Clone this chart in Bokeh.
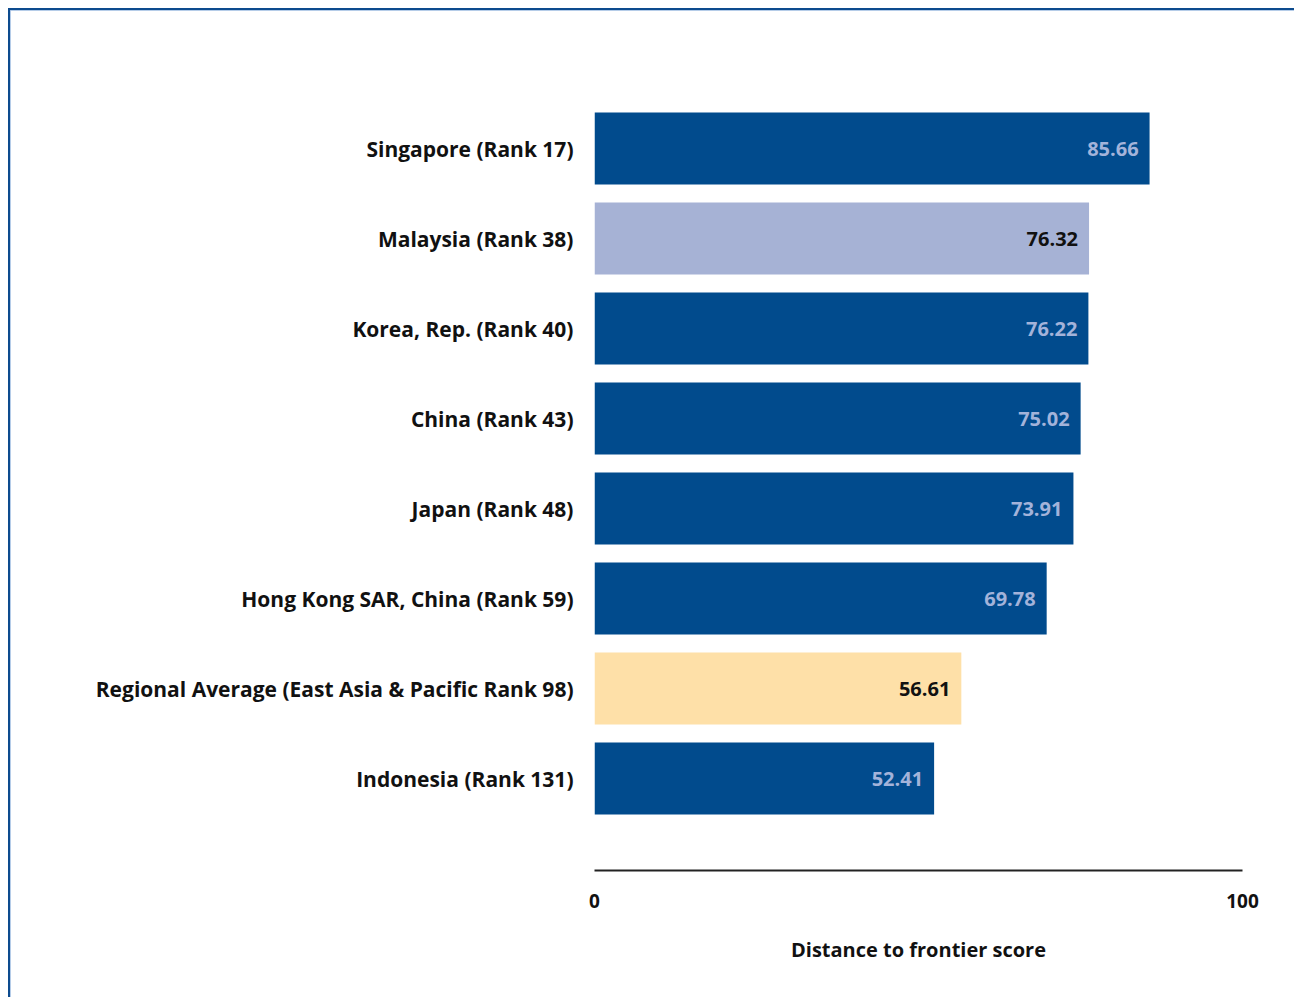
from bokeh.plotting import figure
from bokeh.models import Range1d, FixedTicker, ColumnDataSource
from bokeh.core.properties import value
from bokeh.embed import file_html
from bokeh.resources import INLINE

# ---- data ----
economies = [
    "Singapore (Rank 17)",
    "Malaysia (Rank 38)",
    "Korea, Rep. (Rank 40)",
    "China (Rank 43)",
    "Japan (Rank 48)",
    "Hong Kong SAR, China (Rank 59)",
    "Regional Average (East Asia & Pacific Rank 98)",
    "Indonesia (Rank 131)",
]
scores = [85.66, 76.32, 76.22, 75.02, 73.91, 69.78, 56.61, 52.41]
kinds = ["peer", "focus", "peer", "peer", "peer", "peer", "region", "peer"]
x_ticks = [0, 100]
x_title = "Distance to frontier score"

# ---- styles ----
fill_map = {"peer": "#014b8d", "focus": "#a6b2d5", "region": "#fee0a8"}
text_map = {"peer": "#a3b3da", "focus": "#111111", "region": "#111111"}
FONT = "Open Sans"

pos = list(range(len(economies)))
src = ColumnDataSource(dict(
    y=pos,
    score=scores,
    label=["%.2f" % s for s in scores],
    fill=[fill_map[k] for k in kinds],
    tcol=[text_map[k] for k in kinds],
))

p = figure(
    width=1286, height=989,
    x_range=Range1d(0, 100),
    y_range=Range1d(8.0222, -0.5),
    output_backend="svg", toolbar_location=None,
    min_border_left=584, min_border_right=54,
    min_border_top=93, min_border_bottom=129,
)
p.margin = (8, 0, 0, 8)
p.outline_line_color = None
p.xgrid.visible = False
p.ygrid.visible = False
p.background_fill_color = "white"
p.border_fill_color = "white"

p.hbar(y="y", left=0, right="score", height=0.8, fill_color="fill",
       line_color=None, source=src)

p.text(x="score", y="y", text="label", x_offset=-11,
       text_align="right", text_baseline="middle",
       text_color="tcol", text_font=value(FONT), text_font_style="bold",
       text_font_size="20px", source=src)

# x axis
xa = p.xaxis[0]
xa.ticker = FixedTicker(ticks=x_ticks)
xa.major_tick_line_color = None
xa.minor_tick_line_color = None
xa.axis_line_color = "#222222"
xa.axis_line_width = 2
xa.major_label_standoff = 17
xa.major_label_text_font = FONT
xa.major_label_text_font_style = "bold"
xa.major_label_text_font_size = "19px"
xa.major_label_text_color = "#111111"
xa.axis_label = x_title
xa.axis_label_standoff = 25
xa.axis_label_text_font = FONT
xa.axis_label_text_font_style = "bold"
xa.axis_label_text_font_size = "20px"
xa.axis_label_text_color = "#111111"

# y axis (category labels)
ya = p.yaxis[0]
ya.ticker = FixedTicker(ticks=pos)
ya.major_label_overrides = {i: e for i, e in zip(pos, economies)}
ya.axis_line_color = None
ya.major_tick_line_color = None
ya.minor_tick_line_color = None
ya.major_label_standoff = 15
ya.major_label_text_font = FONT
ya.major_label_text_font_style = "bold"
ya.major_label_text_font_size = "21px"
ya.major_label_text_color = "#111111"

p.styles = {"border-left": "2px solid #0d4b8e", "border-top": "2px solid #0d4b8e",
            "box-shadow": "inset 1px 1px 0 #9dbbe0"}

open("out.html", "w").write(file_html(p, INLINE))
